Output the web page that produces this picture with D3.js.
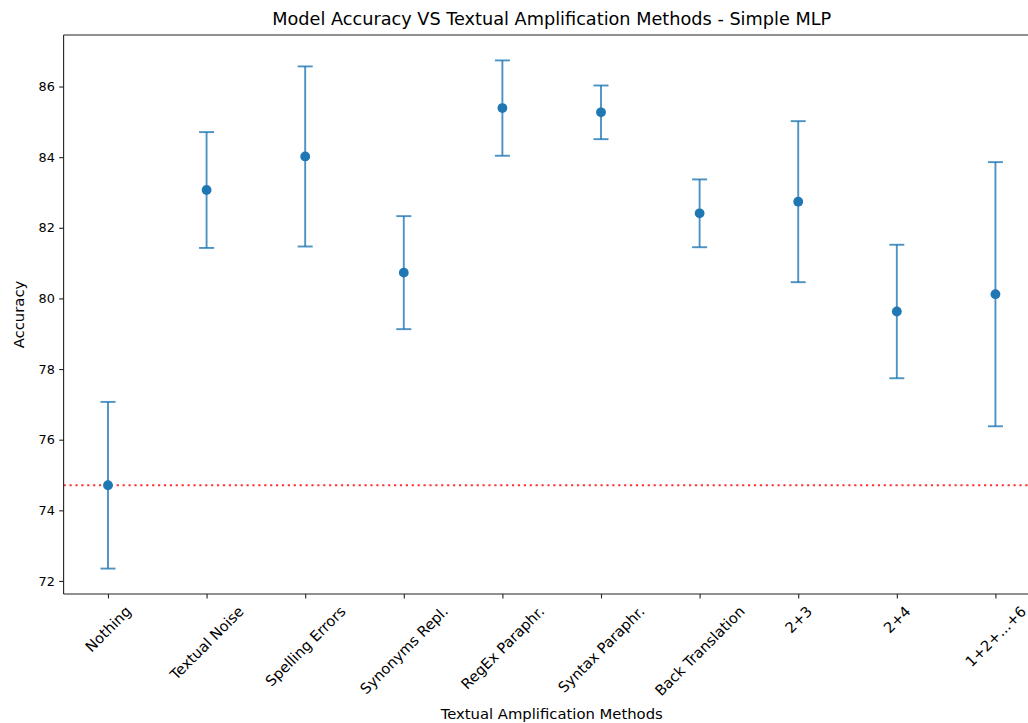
<!DOCTYPE html>
<html>
<head>
<meta charset="utf-8">
<script src="https://d3js.org/d3.v7.min.js"></script>
<style>
  html, body { margin: 0; padding: 0; background: #fff; }
  svg { display: block; overflow: hidden; }
  text { font-family: "DejaVu Sans", sans-serif; fill: #000; }
</style>
</head>
<body>
<svg id="chart" width="1028" height="723"></svg>
<script>
/***************************  Data ***************************/
var methods = ["Nothing", "Textual Noise", "Spelling Errors", "Synonyms Repl.", "RegEx Paraphr.",
               "Syntax Paraphr.", "Back Translation", "2+3", "2+4", "1+2+...+6"];
var accuracy_mean = [74.71, 83.07, 84.02, 80.73, 85.39, 85.27, 82.41, 82.74, 79.63, 80.12];
var accuracy_err  = [2.36, 1.64, 2.55, 1.60, 1.35, 0.76, 0.96, 2.28, 1.89, 3.74];
var baseline_acc  = 74.71;
var y_ticks = [72, 74, 76, 78, 80, 82, 84, 86];

/***************************  Layout ***************************/
var svg = d3.select("#chart");
var m_left = 63.6, m_right = 1039.8, m_top = 35, m_bottom = 594;
var blue = "#1f77b4";
var tick_font = 12.8, xtick_font = 14.6, label_font = 14.8, title_font = 17.7;

// matplotlib style margins: 5% of data range either side
var x = d3.scaleLinear()
          .domain([-0.45, methods.length - 1 + 0.45])
          .range([m_left, m_right]);

var lows = accuracy_mean.map(function(m, i){ return m - accuracy_err[i]; });
var highs = accuracy_mean.map(function(m, i){ return m + accuracy_err[i]; });
var ymin = d3.min(lows), ymax = d3.max(highs);
var ypad = (ymax - ymin) * 0.05;
var y = d3.scaleLinear()
          .domain([ymin - ypad, ymax + ypad])
          .range([m_bottom, m_top]);

/***************************  Baseline ***************************/
svg.append("line")
   .attr("x1", m_left).attr("x2", m_right)
   .attr("y1", y(baseline_acc)).attr("y2", y(baseline_acc))
   .attr("stroke", "red")
   .attr("stroke-opacity", 0.8)
   .attr("stroke-width", 1.9)
   .attr("stroke-dasharray", "2.2,3.7");

/***************************  Error bars ***************************/
var bars = svg.append("g").attr("id", "errorbars");
var cap = 7.5;

methods.forEach(function(name, i){
    var cx = x(i);
    var g = bars.append("g").attr("stroke", blue).attr("stroke-opacity", 0.8).attr("stroke-width", 1.9);
    g.append("line").attr("x1", cx).attr("x2", cx).attr("y1", y(lows[i])).attr("y2", y(highs[i]));
    g.append("line").attr("x1", cx - cap).attr("x2", cx + cap).attr("y1", y(lows[i])).attr("y2", y(lows[i]));
    g.append("line").attr("x1", cx - cap).attr("x2", cx + cap).attr("y1", y(highs[i])).attr("y2", y(highs[i]));
});

bars.selectAll("circle")
    .data(accuracy_mean)
    .enter()
    .append("circle")
    .attr("cx", function(d, i){ return x(i); })
    .attr("cy", function(d){ return y(d); })
    .attr("r", 4.9)
    .attr("fill", blue);

/***************************  Axes ***************************/
var spine = "#222";
// left, top and bottom spines (the right one falls outside the picture)
svg.append("line").attr("x1", m_left).attr("x2", m_left).attr("y1", m_top).attr("y2", m_bottom)
   .attr("stroke", spine).attr("stroke-width", 1.1);
svg.append("line").attr("x1", m_left).attr("x2", m_right).attr("y1", m_top).attr("y2", m_top)
   .attr("stroke", spine).attr("stroke-width", 1.1);
svg.append("line").attr("x1", m_left).attr("x2", m_right).attr("y1", m_bottom).attr("y2", m_bottom)
   .attr("stroke", spine).attr("stroke-width", 1.1);

var yAxis = svg.append("g")
               .attr("transform", "translate(" + m_left + ",0)")
               .call(d3.axisLeft(y).tickValues(y_ticks).tickSize(4.4).tickPadding(4.4).tickFormat(d3.format("d")));
yAxis.select(".domain").remove();
yAxis.selectAll(".tick line").attr("stroke", spine).attr("stroke-width", 1.1);
yAxis.selectAll(".tick text").attr("font-size", tick_font + "px");

var xAxis = svg.append("g")
               .attr("transform", "translate(0," + m_bottom + ")")
               .call(d3.axisBottom(x).tickValues(d3.range(methods.length)).tickSize(4.4).tickFormat(""));
xAxis.select(".domain").remove();
xAxis.selectAll(".tick line").attr("stroke", spine).attr("stroke-width", 1.1);

// rotated labels, bounding box centred under the tick (matplotlib rotation=45)
var labelTop = m_bottom + 9;
var xlabels = svg.append("g").attr("id", "xlabels");
methods.forEach(function(name, i){
    var t = xlabels.append("text")
                   .text(name)
                   .attr("font-size", xtick_font + "px")
                   .attr("text-anchor", "middle")
                   .attr("dominant-baseline", "central");
    var w = t.node().getComputedTextLength();
    var h = xtick_font * 1.05;
    var half = (w + h) * Math.SQRT1_2 / 2;
    t.attr("transform", "translate(" + x(i) + "," + (labelTop + half) + ") rotate(-45)");
});

/***************************  Titles ***************************/
var mid = (m_left + m_right) / 2;
svg.append("text")
   .text("Model Accuracy VS Textual Amplification Methods - Simple MLP")
   .attr("x", mid).attr("y", 25)
   .attr("text-anchor", "middle")
   .attr("font-size", title_font + "px");

svg.append("text")
   .text("Textual Amplification Methods")
   .attr("x", mid).attr("y", 719)
   .attr("text-anchor", "middle")
   .attr("font-size", label_font + "px");

svg.append("text")
   .text("Accuracy")
   .attr("transform", "translate(24," + ((m_top + m_bottom) / 2) + ") rotate(-90)")
   .attr("text-anchor", "middle")
   .attr("font-size", label_font + "px");
</script>
</body>
</html>
